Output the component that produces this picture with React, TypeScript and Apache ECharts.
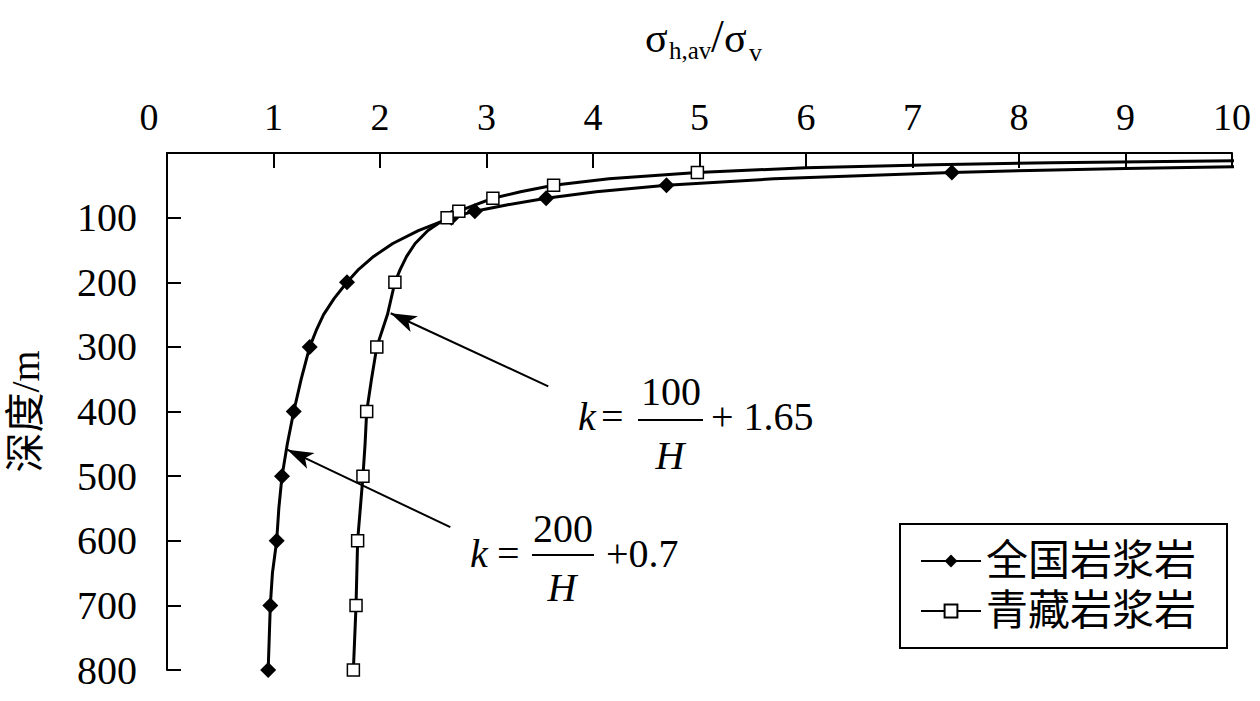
import React, { useEffect, useRef } from 'react';
import * as echarts from 'echarts';

const FONT = "'Liberation Serif', 'Noto Sans CJK SC', serif";

// 全国岩浆岩 curve (depth in m, ratio σh,av/σv)
const qgName = '全国岩浆岩';
const qgDepth = [21, 24, 27, 30, 40, 50, 60, 70, 80, 90, 100, 120, 140, 160, 180, 200, 225, 250, 275, 300, 350, 400, 450, 500, 550, 600, 650, 700, 750, 800];
const qgRatio = [10.07, 9.0, 8.1, 7.37, 5.7, 4.69, 4.03, 3.56, 3.2, 2.89, 2.67, 2.36, 2.12, 1.94, 1.8, 1.69, 1.57, 1.47, 1.4, 1.34, 1.26, 1.19, 1.13, 1.08, 1.05, 1.03, 0.99, 0.97, 0.96, 0.95];
const qgMarkerDepth = [30, 50, 70, 90, 100, 200, 300, 400, 500, 600, 700, 800];

// 青藏岩浆岩 curve
const qzName = '青藏岩浆岩';
const qzDepth = [12, 15, 18, 23, 30, 40, 50, 60, 70, 80, 90, 100, 120, 140, 160, 180, 200, 250, 300, 350, 400, 450, 500, 600, 700, 800];
const qzRatio = [10.07, 8.3, 7.2, 6.0, 4.98, 4.15, 3.63, 3.32, 3.06, 2.9, 2.74, 2.63, 2.45, 2.33, 2.25, 2.19, 2.14, 2.07, 1.97, 1.92, 1.875, 1.86, 1.84, 1.79, 1.775, 1.75];
const qzMarkerDepth = [30, 50, 70, 90, 100, 200, 300, 400, 500, 600, 700, 800];

// arrows: [tailRatio, tailDepth] -> [tipRatio, tipDepth]
const arrowQz = [[3.58, 361], [2.1, 248]];
const arrowQg = [[2.66, 579], [1.13, 459]];

const xMin = 0;
const xMax = 10;
const xInterval = 1;
const yMin = 0;
const yMax = 800;
const yInterval = 100;

function buildData(depth: number[], ratio: number[], markers: number[]) {
  return depth.map((d, i) => {
    const item: any = { value: [ratio[i], d] };
    if (markers.indexOf(d) < 0) item.symbol = 'none';
    return item;
  });
}

function txt(x: number, y: number, text: string, size: number, opts: any = {}) {
  const align = opts.align || 'left';
  return {
    type: 'text',
    x,
    y,
    silent: true,
    style: {
      text,
      fontSize: size,
      fontFamily: FONT,
      fontStyle: opts.italic ? 'italic' : 'normal',
      fill: '#000',
      align,
      verticalAlign: 'middle',
      textAlign: align,
      textVerticalAlign: 'middle',
    },
  };
}

function hline(x1: number, x2: number, y: number) {
  return {
    type: 'line',
    silent: true,
    shape: { x1, y1: y, x2, y2: y },
    style: { stroke: '#000', lineWidth: 2 },
  };
}

export default function App() {
  const ref = useRef<HTMLDivElement>(null);
  useEffect(() => {
    if (!ref.current) return;
    const chart = echarts.init(ref.current, undefined, { renderer: 'svg' });
    const arrowMark = (a: number[][]) => [
      { coord: a[0], symbol: 'none' },
      { coord: a[1], symbol: 'arrow', symbolSize: [13, 26] },
    ];
    const option: any = {
      animation: false,
      backgroundColor: '#fff',
      textStyle: { fontFamily: FONT },
      grid: { left: 167, top: 153, right: 28, bottom: 31, containLabel: false, outerBoundsMode: 'none' },
      legend: {
        orient: 'vertical',
        left: 900,
        top: 524,
        padding: [13, 31, 13, 20],
        itemGap: 2,
        itemWidth: 60,
        itemHeight: 16,
        borderColor: '#000',
        borderWidth: 2,
        borderRadius: 0,
        backgroundColor: '#fff',
        selectedMode: false,
        textStyle: { fontSize: 42, lineHeight: 48, color: '#000', fontFamily: FONT },
        data: [qgName, qzName],
      },
      xAxis: {
        type: 'value',
        position: 'top',
        min: xMin,
        max: xMax,
        interval: xInterval,
        axisLine: { show: true, onZero: false, lineStyle: { color: '#000', width: 2 } },
        axisTick: { show: true, inside: true, length: 15, lineStyle: { color: '#000', width: 2 } },
        axisLabel: {
          color: '#000',
          fontSize: 38,
          fontFamily: FONT,
          margin: 17,
          formatter: (v: number) => (v === 0 ? '{z|0}' : String(v)),
          rich: { z: { fontSize: 38, fontFamily: FONT, color: '#000', padding: [0, 36, 0, 0] } },
        },
        splitLine: { show: false },
      },
      yAxis: {
        type: 'value',
        inverse: true,
        min: yMin,
        max: yMax,
        interval: yInterval,
        name: '深度/m',
        nameLocation: 'middle',
        nameRotate: 90,
        nameGap: 122,
        nameTextStyle: { fontSize: 40, color: '#000', fontFamily: FONT },
        axisLine: { show: true, onZero: false, lineStyle: { color: '#000', width: 2 } },
        axisTick: { show: true, inside: true, length: 14, lineStyle: { color: '#000', width: 2 } },
        axisLabel: {
          color: '#000',
          fontSize: 40,
          fontFamily: FONT,
          margin: 30,
          formatter: (v: number) => (v === 0 ? '' : String(v)),
        },
        splitLine: { show: false },
      },
      series: [
        {
          name: qgName,
          type: 'line',
          data: buildData(qgDepth, qgRatio, qgMarkerDepth),
          symbol: 'diamond',
          symbolSize: 16,
          showSymbol: true,
          showAllSymbol: true,
          clip: false,
          lineStyle: { color: '#000', width: 3 },
          itemStyle: { color: '#000', borderColor: '#000', borderWidth: 0 },
          emphasis: { disabled: true },
          z: 3,
          markLine: {
            silent: true,
            symbol: ['none', 'arrow'],
            label: { show: false },
            lineStyle: { color: '#000', width: 2, type: 'solid' },
            emphasis: { disabled: true },
            data: [arrowMark(arrowQz), arrowMark(arrowQg)],
          },
        },
        {
          name: qzName,
          type: 'line',
          data: buildData(qzDepth, qzRatio, qzMarkerDepth),
          symbol: 'rect',
          symbolSize: 12,
          showSymbol: true,
          showAllSymbol: true,
          clip: false,
          lineStyle: { color: '#000', width: 3 },
          itemStyle: { color: '#fff', borderColor: '#000', borderWidth: 1.5 },
          emphasis: { disabled: true },
          z: 4,
        },
      ],
      graphic: [
        // axis title σh,av/σv
        txt(645, 38, 'σ', 42),
        txt(669, 50, 'h,av', 25),
        txt(711, 36, '/', 46),
        txt(724, 38, 'σ', 42),
        txt(749, 52, 'v', 26),
        // formula 1
        txt(578, 416, 'k', 40, { italic: true }),
        txt(601, 416, '=', 40),
        txt(671, 391, '100', 40, { align: 'center' }),
        hline(638, 703, 420),
        txt(670, 455, 'H', 40, { italic: true, align: 'center' }),
        txt(711, 416, '+ 1.65', 40),
        // formula 2
        txt(470, 553, 'k', 40, { italic: true }),
        txt(497, 553, '=', 40),
        txt(563, 528, '200', 40, { align: 'center' }),
        hline(532, 594, 555),
        txt(562, 587, 'H', 40, { italic: true, align: 'center' }),
        txt(606, 553, '+0.7', 40),
      ],
    };
    chart.setOption(option);
    return () => chart.dispose();
  }, []);
  return (
    <div
      ref={ref}
      style={{ position: 'fixed', left: 0, top: 0, width: 1260, height: 701, background: '#fff' }}
    />
  );
}
